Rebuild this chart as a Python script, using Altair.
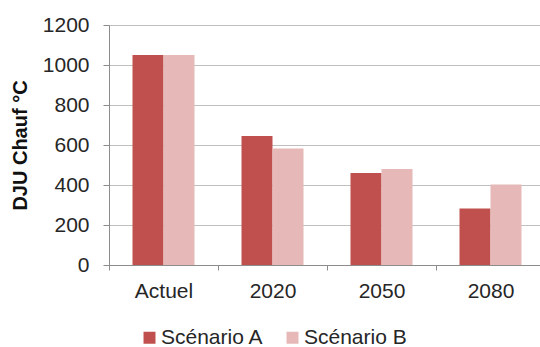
import altair as alt
import pandas as pd

# Heating degree-days per period, two climate scenarios
categories = ["Actuel", "2020", "2050", "2080"]
scenario_a = [1050, 645, 460, 283]
scenario_b = [1050, 583, 480, 402]
series_names = ["Scénario A", "Scénario B"]
series_colors = ["#C0504D", "#E6B9B8"]
y_ticks = [0, 200, 400, 600, 800, 1000, 1200]

rows = []
for cat, a, b in zip(categories, scenario_a, scenario_b):
    rows.append({"periode": cat, "scenario": series_names[0], "dju": a})
    rows.append({"periode": cat, "scenario": series_names[1], "dju": b})
df = pd.DataFrame(rows)

FONT = "Liberation Sans"
TEXT = "#262626"
AXIS = "#8C8C8C"
LABEL_SIZE = 21

chart = (
    alt.Chart(df)
    .mark_bar()
    .encode(
        x=alt.X(
            "periode:N",
            sort=categories,
            scale=alt.Scale(range=[0, 436], paddingInner=0, paddingOuter=0),
            axis=alt.Axis(
                title=None,
                labelAngle=0,
                labelFontSize=LABEL_SIZE,
                labelFont=FONT,
                labelColor=TEXT,
                labelPadding=10,
                tickBand="extent",
                tickSize=5,
                tickColor=AXIS,
                domainColor=AXIS,
                grid=False,
            ),
        ),
        xOffset=alt.XOffset(
            "scenario:N",
            sort=series_names,
            scale=alt.Scale(paddingInner=0, paddingOuter=0.758),
        ),
        y=alt.Y(
            "dju:Q",
            scale=alt.Scale(domain=[0, 1200], nice=False),
            axis=alt.Axis(
                title="DJU Chauf °C",
                titleFont=FONT,
                titleFontSize=20,
                titleFontWeight="bold",
                titleColor="#111111",
                titleAngle=-90,
                titleBaseline="alphabetic",
                titleAlign="center",
                titleX=-83,
                titleY=120,
                values=y_ticks,
                format="d",
                labelFontSize=LABEL_SIZE,
                labelFont=FONT,
                labelColor=TEXT,
                labelPadding=14,
                tickSize=6,
                tickColor=AXIS,
                domainColor=AXIS,
                gridColor="#BFBFBF",
                gridWidth=1,
            ),
        ),
        color=alt.Color(
            "scenario:N",
            sort=series_names,
            scale=alt.Scale(domain=series_names, range=series_colors),
            legend=alt.Legend(
                title=None,
                orient="none",
                direction="horizontal",
                legendX=30,
                legendY=302,
                symbolType="square",
                symbolSize=144,
                symbolStrokeWidth=0,
                labelFontSize=LABEL_SIZE,
                labelFont=FONT,
                labelColor=TEXT,
                labelOffset=1,
                columnPadding=18,
                padding=0,
            ),
        ),
    )
    .properties(
        width=431,
        height=240,
        autosize=alt.AutoSizeParams(type="none"),
        padding={"left": 109, "top": 25, "right": 0, "bottom": 82},
    )
    .configure_view(stroke=None)
    .configure(background="white")
)

chart.save("out.html", embed_options={"renderer": "svg", "actions": False})
